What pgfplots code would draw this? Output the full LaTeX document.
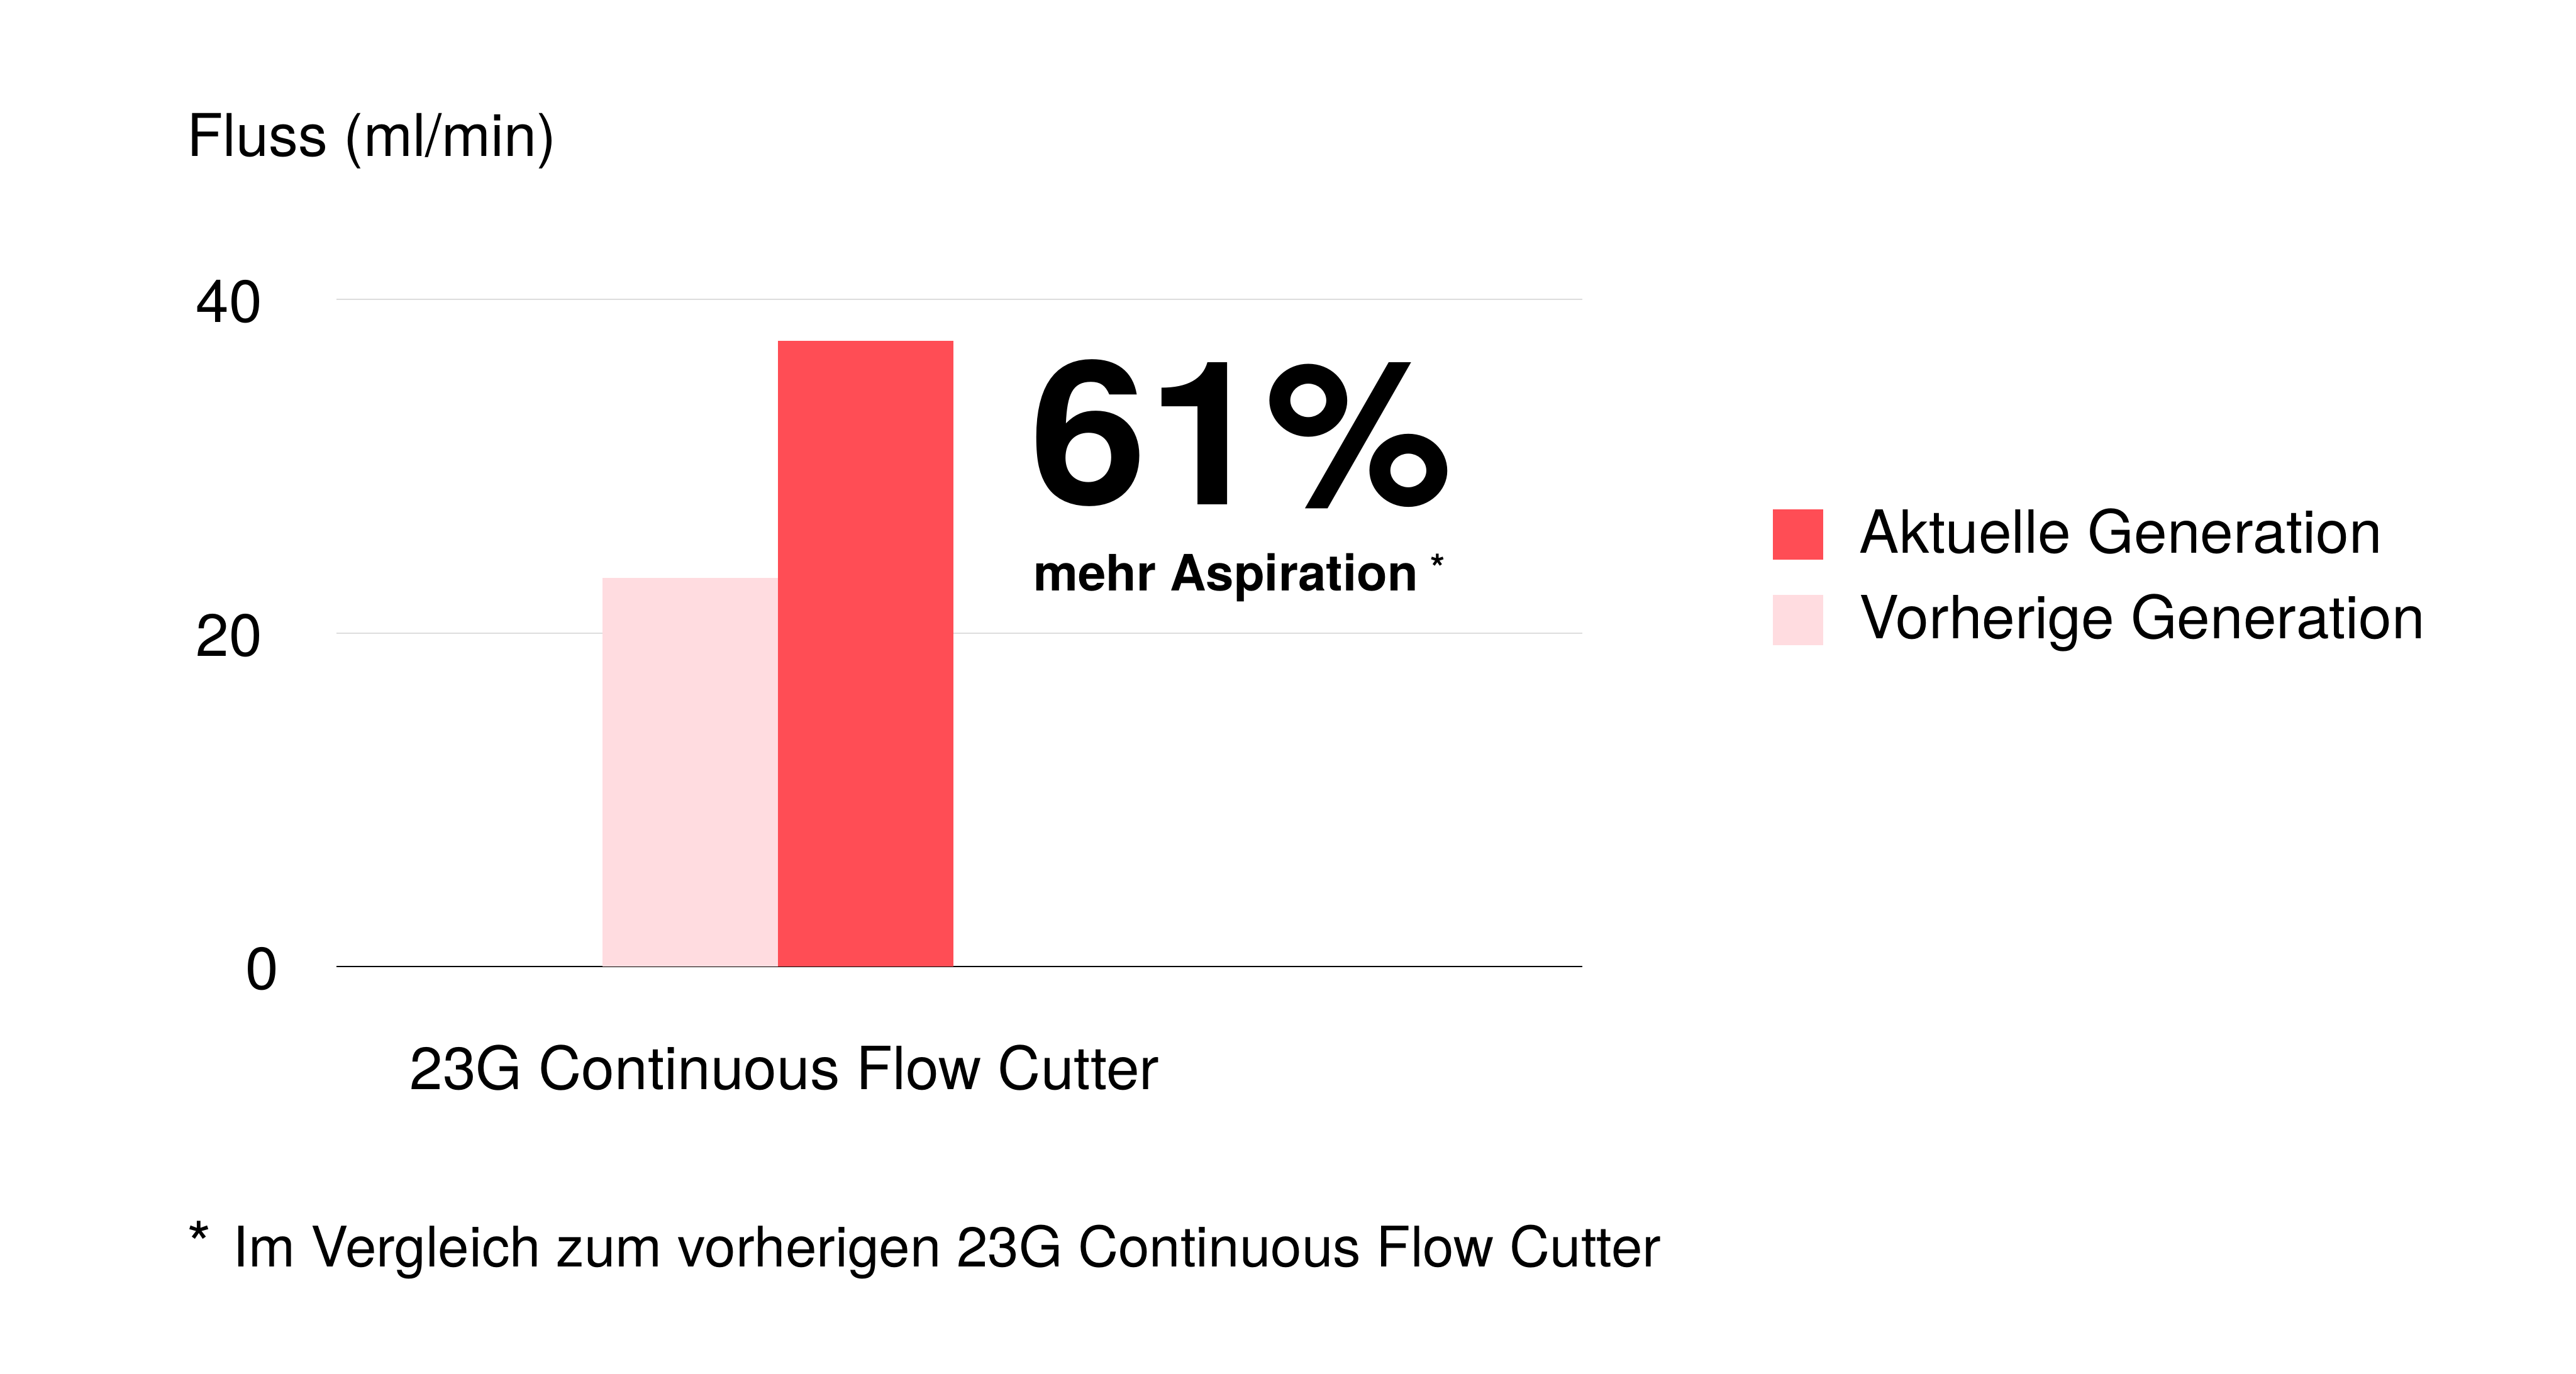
\documentclass[border=0pt]{standalone}
\usepackage{fontspec}
\setmainfont{TeX Gyre Heros}
\usepackage{pgfplots}
\pgfplotsset{compat=1.18}
\definecolor{aktuell}{HTML}{FF4D55}
\definecolor{vorher}{HTML}{FFDCE0}
\definecolor{gitter}{HTML}{DDDDDD}

\begin{document}
\begin{tikzpicture}
\path[use as bounding box] (0,0) rectangle (409.6bp,218.5bp);
\begin{axis}[
	at = {(53.5bp, 64.8bp)},
	anchor = south west,
	scale only axis,
	width = 198.1bp,
	height = 106.1bp,
	xmin = -1, xmax = 1.8205,
	ymin = 0, ymax = 40,
	ybar = 0pt,
	bar width = 27.9bp,
	axis x line* = bottom,
	axis y line* = left,
	y axis line style = {draw = none},
	x axis line style = {draw = black, line width = 0.27bp},
	tick style = {draw = none},
	xtick = {0},
	xticklabels = {23G Continuous Flow Cutter},
	xticklabel style = {anchor = base, inner sep = 0pt, yshift = -15.25bp, xshift = 1.0bp},
	ytick = {0, 20, 40},
	yticklabels = {{0\kern-2.6bp}, 20, 40},
	yticklabel style = {anchor = east, inner sep = 0pt, xshift = -11.6bp, yshift = -0.4bp},
	tick label style = {font = \fontsize{9.5}{11}\selectfont},
	/pgf/number format/assume math mode = true,
	ymajorgrids,
	grid style = {gitter, line width = 0.2bp},
	clip = false,
	reverse legend,
	legend style = {
		draw = none, fill = none,
		at = {(1.1519, 0.688)},
		anchor = north west,
		inner sep = 0pt,
		row sep = 4.1bp,
		column sep = 5.8bp,
		nodes = {inner sep = 0pt, text height = 7bp, text depth = 2.5bp, font = \fontsize{9.5}{11}\selectfont},
	},
	legend cell align = left,
	legend image code/.code = {
		\fill[#1] (0bp, -3.3bp) rectangle (8bp, 4.7bp);
	},
]
\addplot[fill = vorher, draw = none] coordinates {(0, 23.3)};
\addlegendentry{Vorherige Generation}
\addplot[fill = aktuell, draw = none] coordinates {(0, 37.5)};
\addlegendentry{Aktuelle Generation}

% Beschriftungen
\node[anchor = base west, inner sep = 0pt, font = \fontsize{9.4}{11}\selectfont]
	at (rel axis cs:-0.1210, 1.2149) {Fluss (ml/min)};
\node[anchor = base west, inner sep = 0pt, font = \bfseries\fontsize{32}{32}\selectfont]
	at (rel axis cs:0.5555, 0.6927) {\scalebox{1.055}[1]{61\%}};
\node[anchor = base west, inner sep = 0pt, font = \bfseries\fontsize{8}{10}\selectfont]
	at (rel axis cs:0.5585, 0.5627) {mehr Aspiration\hspace{2.0bp}\raisebox{1.5bp}{\fontsize{6}{6}\selectfont *}};
\node[anchor = base west, inner sep = 0pt, font = \fontsize{10}{11}\selectfont]
	at (rel axis cs:-0.1210, -0.4505) {*};
\node[anchor = base west, inner sep = 0pt, font = \fontsize{8.93}{11}\selectfont]
	at (rel axis cs:-0.0838, -0.4505) {Im Vergleich zum vorherigen 23G Continuous Flow Cutter};
\end{axis}
\end{tikzpicture}
\end{document}
